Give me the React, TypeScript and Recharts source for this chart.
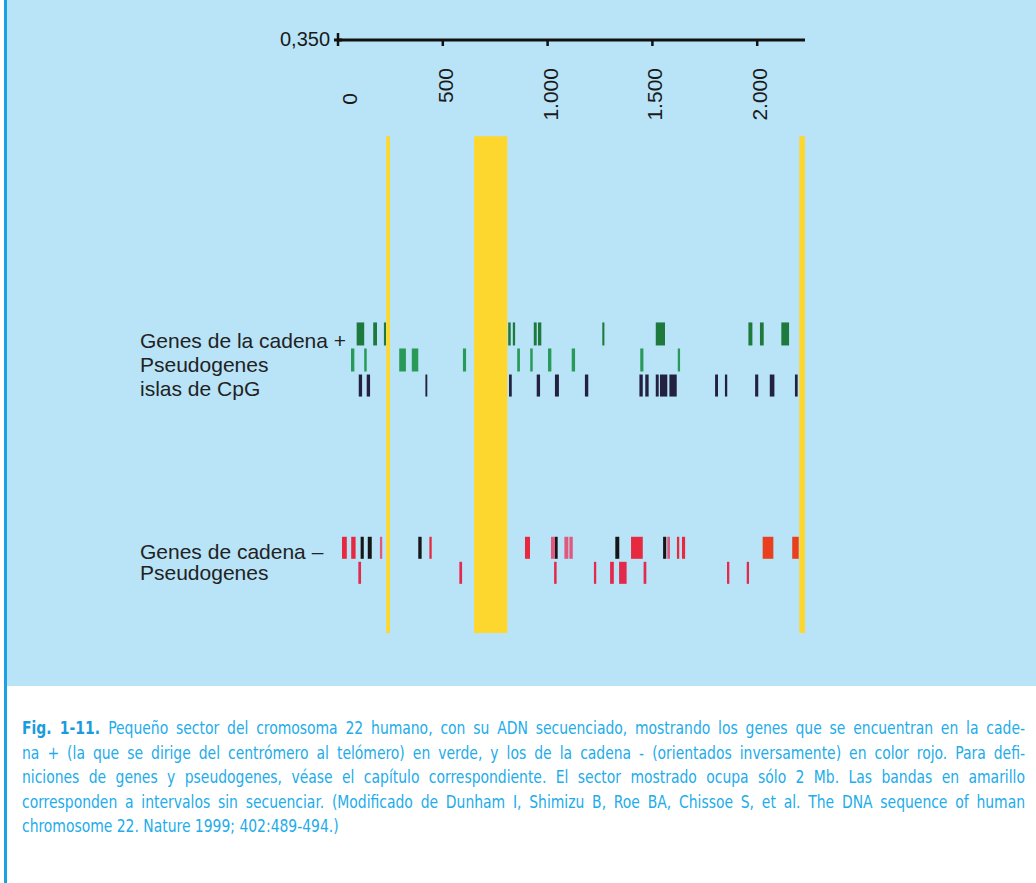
import { ComposedChart, XAxis, YAxis, ReferenceArea } from 'recharts';

// kb along the sequenced contig
const AXIS_TICKS = [0, 500, 1000, 1500, 2000];
const TICK_LABELS = ['0', '500', '1.000', '1.500', '2.000'];
const AXIS_END = 2228;
const SCALE_LABEL = '0,350';

// unsequenced gaps (yellow)
const GAPS: [number, number][] = [[230, 248], [649, 808], [2201, 2228]];

// + strand
const GENES_PLUS: [number, number][] = [
  [89, 125], [168, 186], [219, 229], [812, 824], [834, 845], [934, 948], [954, 970],
  [1261, 1271], [1516, 1560], [1958, 1977], [2013, 2031], [2115, 2152],
];
const PSEUDO_PLUS: [number, number][] = [
  [62, 78], [125, 137], [292, 324], [352, 383], [596, 611], [855, 868], [917, 929],
  [1002, 1018], [1115, 1131], [1442, 1457], [1621, 1632],
];
const CPG_ISLANDS: [number, number][] = [
  [99, 115], [137, 153], [417, 426], [816, 829], [948, 964], [1035, 1054], [1178, 1194],
  [1438, 1454], [1466, 1482], [1516, 1530], [1536, 1571], [1581, 1616], [1799, 1813],
  [1846, 1857], [1990, 2005], [2060, 2082], [2180, 2193],
];

// - strand
const GENES_MINUS: [number, number][] = [
  [19, 42], [63, 84], [436, 447], [892, 916], [1398, 1454], [1617, 1628], [1641, 1656],
];
const GENES_MINUS_LARGE: [number, number][] = [[2026, 2077], [2167, 2198]];
const GENES_MINUS_DARK: [number, number][] = [
  [108, 123], [142, 161], [383, 399], [1035, 1048], [1323, 1342], [1551, 1566],
];
const GENES_MINUS_PALE: [number, number][] = [
  [200, 211], [1016, 1035], [1080, 1099], [1104, 1120], [1571, 1584],
];
const PSEUDO_MINUS: [number, number][] = [
  [97, 110], [579, 592], [1031, 1043], [1221, 1232], [1298, 1316], [1341, 1377],
  [1458, 1471], [1856, 1867], [1950, 1961],
];

const CAPTION_LINES = [
  'Pequeño sector del cromosoma 22 humano, con su ADN secuenciado, mostrando los genes que se encuentran en la cade-',
  'na + (la que se dirige del centrómero al telómero) en verde, y los de la cadena - (orientados inversamente) en color rojo. Para defi-',
  'niciones de genes y pseudogenes, véase el capítulo correspondiente. El sector mostrado ocupa sólo 2 Mb. Las bandas en amarillo',
  'corresponden a intervalos sin secuenciar. (Modificado de Dunham I, Shimizu B, Roe BA, Chissoe S, et al. The DNA sequence of human',
  'chromosome 22. Nature 1999; 402:489-494.)',
];

// track rows (y in chart pixels, y axis is 1:1)
const LANES = {
  gap: [137, 633],
  genesPlus: [323, 346],
  pseudoPlus: [349, 372],
  cpg: [375, 397],
  genesMinus: [537, 559],
  pseudoMinus: [562, 584],
};

const SANS = '"Liberation Sans", Arial, Helvetica, sans-serif';
const NARROW = '"Liberation Sans Narrow", "Arial Narrow", "DejaVu Sans Condensed", sans-serif';
const SQUEEZE = 0.91;

function AxisTick(props: any) {
  const { x, y, payload } = props;
  const i = AXIS_TICKS.indexOf(payload.value);
  const isZero = payload.value === 0;
  const tx = isZero ? x + 19 : x + 10;
  const ty = isZero ? 93 : 68;
  return (
    <g>
      {isZero ? (
        <>
          <line x1={x} x2={x} y1={y - 7} y2={y + 6} stroke="#111" strokeWidth={2.5} />
          <line x1={x - 4} x2={x + 4} y1={y} y2={y} stroke="#111" strokeWidth={3} />
        </>
      ) : (
        <line x1={x} x2={x} y1={y} y2={y + 6} stroke="#111" strokeWidth={2.5} />
      )}
      <text
        x={tx}
        y={ty}
        transform={`rotate(-90, ${tx}, ${ty})`}
        textAnchor="end"
        fontSize={21}
        fontFamily={SANS}
        fill="#1a1a1a"
      >
        {TICK_LABELS[i]}
      </text>
    </g>
  );
}

function marks(list: [number, number][], lane: number[], fill: string, key: string) {
  return list.map(([a, b], i) => (
    <ReferenceArea
      key={`${key}-${i}`}
      x1={a}
      x2={b}
      y1={lane[0]}
      y2={lane[1]}
      fill={fill}
      fillOpacity={1}
      stroke="none"
      ifOverflow="visible"
    />
  ));
}

export default function App() {
  const data = AXIS_TICKS.map(v => ({ kb: v }));
  const labelStyle = {
    position: 'absolute' as const,
    left: 140,
    fontFamily: SANS,
    fontSize: 21,
    color: '#222',
    whiteSpace: 'nowrap' as const,
    lineHeight: '24px',
  };

  return (
    <div style={{ position: 'absolute', left: 0, top: 0, width: 1036, height: 883, background: '#fff', overflow: 'hidden' }}>
      <div style={{ position: 'absolute', left: 7, top: 0, width: 1029, height: 686, background: '#b9e4f8' }} />
      <div style={{ position: 'absolute', left: 4, top: 0, width: 3, height: 883, background: '#1ba2e2' }} />

      <div style={{ position: 'absolute', left: 0, top: 0 }}>
        <ComposedChart
          width={1036}
          height={686}
          data={data}
          margin={{ top: 40, right: 231, bottom: 0, left: 338 }}
        >
          <XAxis
            dataKey="kb"
            type="number"
            orientation="top"
            mirror
            height={1}
            domain={[0, AXIS_END]}
            ticks={AXIS_TICKS}
            interval={0}
            tickSize={0}
            tickMargin={0}
            tickLine={false}
            axisLine={{ stroke: '#111', strokeWidth: 3 }}
            tick={(p: any) => <AxisTick {...p} />}
            allowDataOverflow
          />
          <YAxis hide type="number" domain={[41, 686]} reversed allowDataOverflow />
          {marks(GAPS, LANES.gap, '#fdd72e', 'gap')}
          {marks(GENES_PLUS, LANES.genesPlus, '#1d7a3c', 'gp')}
          {marks(PSEUDO_PLUS, LANES.pseudoPlus, '#289a58', 'pp')}
          {marks(CPG_ISLANDS, LANES.cpg, '#22213f', 'cpg')}
          {marks(GENES_MINUS, LANES.genesMinus, '#e8283e', 'gm')}
          {marks(GENES_MINUS_LARGE, LANES.genesMinus, '#e8401f', 'gml')}
          {marks(GENES_MINUS_DARK, LANES.genesMinus, '#161616', 'gmd')}
          {marks(GENES_MINUS_PALE, LANES.genesMinus, '#e0587e', 'gmp')}
          {marks(PSEUDO_MINUS, LANES.pseudoMinus, '#e42a4c', 'pm')}
        </ComposedChart>
      </div>

      <div style={{ position: 'absolute', left: 280, top: 28, fontFamily: SANS, fontSize: 20, color: '#1a1a1a' }}>
        {SCALE_LABEL}
      </div>

      <div style={{ ...labelStyle, top: 329 }}>Genes de la cadena +</div>
      <div style={{ ...labelStyle, top: 353 }}>Pseudogenes</div>
      <div style={{ ...labelStyle, top: 377 }}>islas de CpG</div>
      <div style={{ ...labelStyle, top: 540 }}>Genes de cadena –</div>
      <div style={{ ...labelStyle, top: 561 }}>Pseudogenes</div>

      <div
        style={{
          position: 'absolute',
          left: 22,
          top: 716,
          width: 1003 / SQUEEZE,
          transform: `scaleX(${SQUEEZE})`,
          transformOrigin: '0 0',
          fontFamily: NARROW,
          fontSize: 17,
          lineHeight: '24.5px',
          color: '#22acea',
        }}
      >
        {CAPTION_LINES.map((line, i) => (
          <div
            key={i}
            style={{
              whiteSpace: 'nowrap',
              textAlign: 'justify',
              textAlignLast: i < CAPTION_LINES.length - 1 ? 'justify' : 'left',
            }}
          >
            {i === 0 && <b style={{ color: '#1a9cdc' }}>Fig. 1-11. </b>}
            {line}
          </div>
        ))}
      </div>
    </div>
  );
}
